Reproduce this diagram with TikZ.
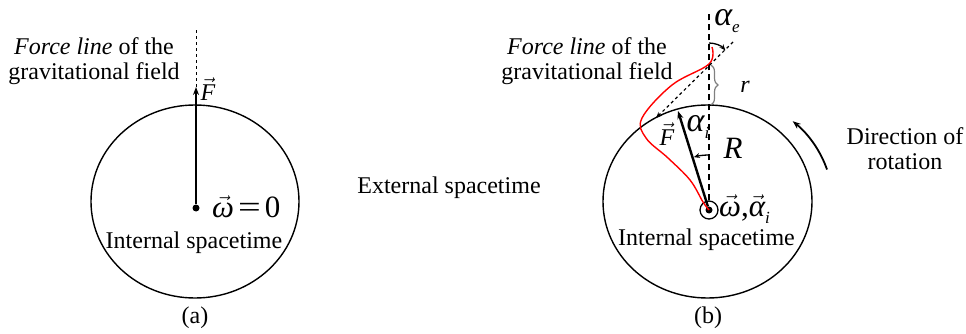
\documentclass[tikz,border=0pt]{standalone}
\usepackage{fontspec}
\usepackage{graphicx}
\setmainfont{Liberation Serif}
\usetikzlibrary{arrows.meta,decorations.pathreplacing}
\newcommand\vecit[1]{\ensuremath{\vec{\hbox{\itshape #1}}}}
\newcommand\mysub[1]{\raisebox{-7pt}{\fontsize{17}{17}\selectfont\itshape #1}}
\begin{document}
\begin{tikzpicture}[x=1pt,y=-1pt,
  lbl/.style={font=\fontsize{24}{25}\selectfont, inner sep=0pt, align=center},
  big/.style={font=\fontsize{31}{32}\selectfont, inner sep=0pt},
  greek/.style={font=\fontsize{34}{34}\selectfont, inner sep=0pt},
  body/.style={line width=1.4pt},
  dotnode/.style={circle, fill, inner sep=0pt, minimum size=7pt},
  tip/.style={-{Stealth[length=8pt,width=6pt]}},
  smalltip/.style={-{Stealth[length=6pt,width=5pt]}}]
\useasboundingbox (0,0) rectangle (966,334);
% ---------- (a) ----------
\draw[body] (195,201.5) ellipse [x radius=104, y radius=96.5];
\node[dotnode] (ca) at (196,208) {};
\coordinate (fa) at (196,87);
\coordinate (ta) at (196,29);
\draw[line width=2.4pt, tip] (ca) -- (fa);
\draw[line width=0.9pt, dashed] (fa) -- (ta);
\node[lbl] (fla) at (94,61) {\textit{Force line} of the\\gravitational field};
\node[lbl] (Fa) at (208,89) {\vecit{F}};
\node[big, anchor=west] (wa) at (212,207) {\vecit{ω}\kern4pt\scalebox{1.3}[1]{=}\kern4pt0};
\node[lbl] (ia) at (194,243) {Internal spacetime};
\node[lbl] (la) at (195,318) {(a)};
% ---------- middle ----------
\node[lbl] (ext) at (449,188) {External spacetime};
% ---------- (b) ----------
\draw[body] (707.5,201.5) ellipse [x radius=104.5, y radius=96.5];
\node[dotnode] (cb) at (709,210) {};
\node[circle, draw, line width=1.3pt, minimum size=18pt, inner sep=0pt] (ob) at (709,210) {};
\coordinate (tb) at (709,13);
\draw[line width=2pt, dash pattern=on 6pt off 4pt] (ob.north) -- (tb);
\coordinate (fb) at (678,111);
\draw[line width=2.4pt, tip] (cb) -- (fb);
% red force line
\draw[red, line width=1.4pt] plot[smooth, tension=0.6] coordinates
  {(712,47) (709,64) (672,85) (642,118) (646,138) (668,158) (690,180) (703,202) (709,210)};
% tangent dashed line
\coordinate (e1) at (733,42);
\coordinate (e2) at (656,118);
\draw[line width=1.2pt, dashed, smalltip] (e1) -- (e2);
% alpha_e arc
\draw[line width=1.3pt, smalltip] (709,43) arc[start angle=-90, end angle=-42, radius=22];
% alpha_i arc
\draw[line width=1.3pt, smalltip] (709,155) arc[start angle=-90, end angle=-106, radius=55];
% brace r
\draw[gray, line width=1.2pt, decorate, decoration={brace, amplitude=7pt}] (711,65) -- (711,105);
\node[lbl] (rb) at (745,87) {\itshape r};
% labels
\node[lbl] (flb) at (587,61) {\textit{Force line} of the\\gravitational field};
\node[greek] (ae) at (727,21) {\itshape α\mysub{e}};
\node[lbl] (Fb) at (667,134) {\vecit{F}};
\node[greek] (ai) at (698,127) {\itshape α\mysub{i}};
\node[big] (Rb) at (733,148) {\itshape R};
\node[big, anchor=west] (wb) at (719,209) {\vecit{ω},\vecit{α}\mysub{i}};
\node[lbl] (ib) at (706.5,240) {Internal spacetime};
\node[lbl] (lb) at (708,318) {(b)};
% rotation
\draw[line width=1.8pt, tip] (827,169.5) arc[start angle=-17, end angle=-47, x radius=125, y radius=110];
\node[lbl] (dr) at (905,149) {Direction of\\rotation};
\end{tikzpicture}
\end{document}
